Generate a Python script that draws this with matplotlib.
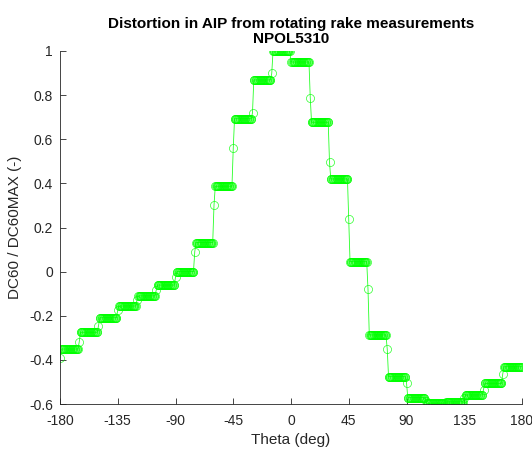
import numpy as np
import matplotlib
matplotlib.use('Agg')
import matplotlib.pyplot as plt

plt.rcParams['font.family'] = ['Liberation Sans', 'DejaVu Sans']
plt.rcParams['axes.unicode_minus'] = False

# rake positions every 15 deg, dense samples on each plateau
boundary_theta = list(range(-180, 181, 15))
plateau_first = 1     # deg after boundary
plateau_last = 14     # deg after boundary
plateau_step = 0.5
# value at each 15 deg boundary (transition samples)
boundary_vals = [-0.390, -0.318, -0.246, -0.174, -0.129, -0.083, -0.026, 0.090,
                 0.301, 0.559, 0.720, 0.899, 0.952, 0.789, 0.496, 0.237,
                 -0.080, -0.352, -0.503, -0.585, -0.595, -0.575, -0.535, -0.464,
                 -0.431]
# flat level between boundaries
plateau_vals = [-0.351, -0.275, -0.209, -0.156, -0.110, -0.061, 0.000, 0.132,
                0.387, 0.693, 0.869, 1.000, 0.950, 0.677, 0.420, 0.045,
                -0.287, -0.476, -0.571, -0.597, -0.590, -0.559, -0.507, -0.431]

theta = []
dc60 = []
for i, t0 in enumerate(boundary_theta[:-1]):
    theta.append(t0)
    dc60.append(boundary_vals[i])
    for off in np.arange(plateau_first, plateau_last + 1e-9, plateau_step):
        theta.append(t0 + off)
        dc60.append(plateau_vals[i])
theta.append(boundary_theta[-1])
dc60.append(boundary_vals[-1])

fig = plt.figure(figsize=(5.32, 4.51), dpi=100)
ax = fig.add_axes([60 / 532, 47 / 451, 462 / 532, 353 / 451])
ax.plot(theta, dc60, '-o', color='#00ff00', lw=0.6, markersize=5.8,
        markerfacecolor='none', markeredgewidth=0.5, alpha=0.85)

ax.set_xlim(-180, 180)
ax.set_ylim(-0.6, 1)
ax.set_xticks(np.arange(-180, 181, 45))
ax.set_yticks(np.arange(-0.6, 1.01, 0.2))
ax.set_yticklabels(['-0.6', '-0.4', '-0.2', '0', '0.2', '0.4', '0.6', '0.8', '1'])

axcol = '#262626'
for s in ['top', 'right']:
    ax.spines[s].set_visible(False)
for s in ['left', 'bottom']:
    ax.spines[s].set_color(axcol)
    ax.spines[s].set_linewidth(0.6)
ax.tick_params(direction='in', length=4, width=0.6, colors=axcol, labelsize=10)
ax.tick_params(axis='x', pad=7)
ax.tick_params(axis='y', pad=5)

ax.set_xlabel('Theta (deg)', fontsize=11, color=axcol, labelpad=4)
ax.set_ylabel('DC60 / DC60MAX (-)', fontsize=11, color=axcol, labelpad=5)
ax.set_title('Distortion in AIP from rotating rake measurements\nNPOL5310',
             fontsize=11, fontweight='bold', color='black', pad=6, linespacing=1.1)

fig.savefig('out.png', dpi=100, facecolor='white')
